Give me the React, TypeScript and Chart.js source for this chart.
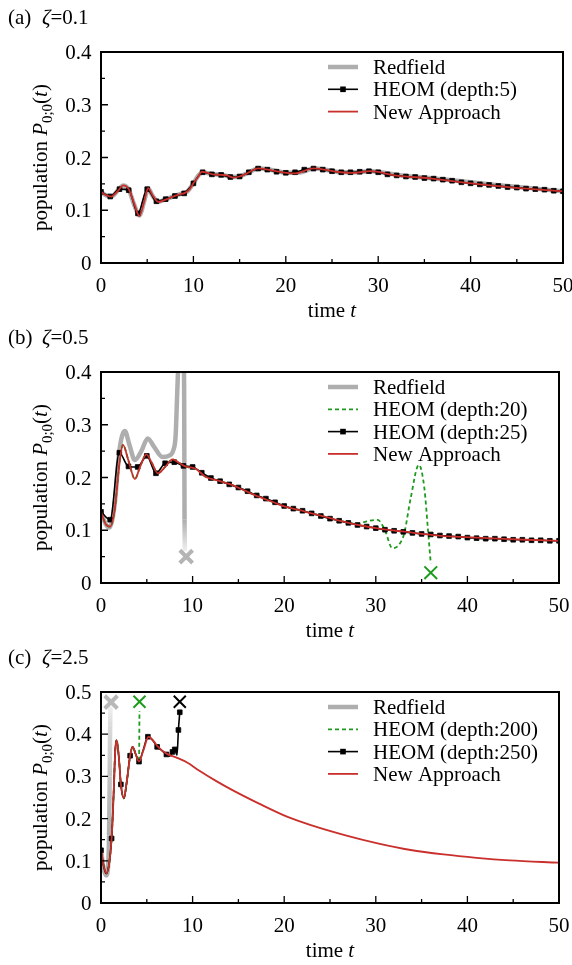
import React, { useEffect, useRef } from "react";
import { Chart, registerables } from "chart.js";
Chart.register(...registerables);

const FONT = '"Liberation Serif", Tinos, "Times New Roman", "DejaVu Serif", serif';
const FS = 21;
const GRAY = "#aeaeae";
const RED = "#c9302c";
const GREEN = "#1e9b1e";
const BLACK = "#000000";
const W = 572;
const H = 320;

// ---- axes ----
const xTicks = [0, 10, 20, 30, 40, 50];
const xTickLabels = ["0", "10", "20", "30", "40", "50"];
const xMinor = [5, 15, 25, 35, 45];
const yTicksAB = [0, 0.1, 0.2, 0.3, 0.4];
const yTickLabelsAB = ["0", "0.1", "0.2", "0.3", "0.4"];
const yMinorAB = [0.05, 0.15, 0.25, 0.35];
const yTicksC = [0, 0.1, 0.2, 0.3, 0.4, 0.5];
const yTickLabelsC = ["0", "0.1", "0.2", "0.3", "0.4", "0.5"];
const yMinorC = [0.05, 0.15, 0.25, 0.35, 0.45];

const panelLetters = ["(a)", "(b)", "(c)"];
const zetaValues = ["0.1", "0.5", "2.5"];

// HEOM sampling times (a), (b)
const heomT = [0, 1, 2, 3, 4, 5, 6, 7, 8, 9, 10, 11, 12, 13, 14, 15, 16, 17, 18, 19, 20, 21, 22, 23, 24, 25, 26, 27, 28, 29, 30, 31, 32, 33, 34, 35, 36, 37, 38, 39, 40, 41, 42, 43, 44, 45, 46, 47, 48, 49, 50];

// ---- panel (a) zeta = 0.1 ----
const aRedT = [0, 0.6, 1.2, 1.8, 2.4, 3.0, 3.6, 4.15, 4.7, 5.1, 5.6, 6.2, 7.0, 7.8, 8.6, 9.3, 10.0, 10.5, 11.0, 11.6, 12.3, 13.2, 14.2, 15.0, 15.9, 17.1, 18.6, 20.2, 21.3, 23.1, 24.6, 26.0, 27.6, 29.2, 31.0, 32.5, 35.0, 38.0, 41.0, 44.0, 47.0, 50];
const aRedV = [0.135, 0.128, 0.127, 0.137, 0.147, 0.139, 0.110, 0.090, 0.119, 0.141, 0.127, 0.116, 0.121, 0.126, 0.131, 0.135, 0.151, 0.165, 0.172, 0.170, 0.168, 0.167, 0.163, 0.164, 0.171, 0.179, 0.176, 0.171, 0.171, 0.179, 0.176, 0.172, 0.172, 0.174, 0.170, 0.166, 0.162, 0.157, 0.151, 0.146, 0.141, 0.136];
const aHeomV = [0.135, 0.126, 0.140, 0.138, 0.094, 0.140, 0.117, 0.121, 0.127, 0.132, 0.151, 0.172, 0.168, 0.167, 0.163, 0.164, 0.172, 0.179, 0.177, 0.173, 0.171, 0.172, 0.177, 0.179, 0.177, 0.174, 0.172, 0.172, 0.173, 0.174, 0.172, 0.168, 0.166, 0.164, 0.163, 0.161, 0.160, 0.158, 0.156, 0.153, 0.151, 0.149, 0.148, 0.146, 0.144, 0.143, 0.141, 0.140, 0.139, 0.137, 0.136];
const aNewT = [0, 0.5, 1.1, 1.8, 2.4, 3.0, 3.6, 4.15, 4.7, 5.1, 5.6, 6.2, 7.0, 7.8, 8.5, 9.1, 9.6, 10.0, 10.5, 10.9, 11.5, 12.1, 13.0, 13.6, 14.3, 15.0, 15.8, 17.0, 18.6, 20.1, 21.0, 23.0, 25.9, 27.5, 29.1, 32.0, 35.6, 39.6, 44.6, 50];
const aNewV = [0.135, 0.129, 0.126, 0.136, 0.147, 0.140, 0.112, 0.089, 0.118, 0.142, 0.128, 0.116, 0.120, 0.126, 0.130, 0.133, 0.140, 0.151, 0.163, 0.173, 0.171, 0.168, 0.167, 0.166, 0.162, 0.164, 0.170, 0.1795, 0.175, 0.171, 0.170, 0.1795, 0.172, 0.171, 0.174, 0.1655, 0.1605, 0.152, 0.143, 0.136];

// ---- panel (b) zeta = 0.5 ----
const bRedT = [0, 0.5, 0.9, 1.5, 2.0, 2.6, 3.1, 3.7, 4.4, 5.1, 5.8, 6.7, 7.5, 7.9, 8.15, 8.3, 8.45, 8.75, 9.0, 9.08, 9.12, 9.15];
const bRedV = [0.135, 0.112, 0.105, 0.150, 0.250, 0.288, 0.262, 0.233, 0.250, 0.274, 0.258, 0.239, 0.242, 0.252, 0.280, 0.350, 0.420, 0.500, 0.450, 0.350, 0.120, 0.060];
const bRedStop = { t: 9.3, v: 0.05 };
const bH20T = [0, 0.5, 1.0, 1.5, 2.0, 2.4, 3.0, 3.7, 4.3, 4.95, 5.6, 6.2, 7.0, 7.8, 8.5, 9.3, 10.3, 11.4, 12.8, 14.3, 15.7, 17.2, 18.7, 20.1, 21.5, 23.0, 24.8, 26.6, 28.0, 29.0, 30.2, 31.0, 31.8, 32.5, 33.1, 33.8, 34.7, 35.3, 35.7, 36.0];
const bH20V = [0.135, 0.112, 0.107, 0.140, 0.225, 0.262, 0.232, 0.197, 0.222, 0.244, 0.226, 0.208, 0.220, 0.2345, 0.228, 0.2205, 0.217, 0.2015, 0.194, 0.186, 0.175, 0.1636, 0.154, 0.1447, 0.139, 0.132, 0.124, 0.116, 0.112, 0.117, 0.1195, 0.100, 0.066, 0.072, 0.094, 0.160, 0.224, 0.180, 0.100, 0.037];
const bH20Stop = { t: 36.0, v: 0.0195 };
const bHeomV = [0.135, 0.120, 0.247, 0.221, 0.220, 0.241, 0.208, 0.227, 0.229, 0.222, 0.220, 0.209, 0.199, 0.193, 0.187, 0.181, 0.174, 0.166, 0.160, 0.153, 0.146, 0.141, 0.137, 0.132, 0.127, 0.122, 0.118, 0.114, 0.110, 0.107, 0.104, 0.101, 0.099, 0.097, 0.095, 0.093, 0.092, 0.090, 0.089, 0.088, 0.086, 0.085, 0.084, 0.084, 0.083, 0.082, 0.082, 0.081, 0.081, 0.080, 0.080];
const bNewT = [0, 0.5, 1.0, 1.5, 2.0, 2.4, 3.0, 3.7, 4.3, 4.95, 5.6, 6.2, 7.0, 7.8, 8.5, 9.3, 10.3, 11.4, 12.8, 14.3, 15.7, 17.2, 18.7, 20.1, 21.5, 23.0, 24.8, 26.6, 28.4, 30.2, 32.0, 33.8, 35.6, 37.4, 41.0, 44.6, 47.3, 50];
const bNewV = [0.135, 0.112, 0.107, 0.140, 0.225, 0.262, 0.232, 0.197, 0.222, 0.244, 0.226, 0.208, 0.220, 0.2345, 0.228, 0.2205, 0.217, 0.2015, 0.194, 0.186, 0.175, 0.1636, 0.154, 0.1447, 0.139, 0.132, 0.124, 0.116, 0.109, 0.1036, 0.0995, 0.096, 0.092, 0.089, 0.086, 0.083, 0.0815, 0.080];

// ---- panel (c) zeta = 2.5 ----
const cRedT = [0, 0.25, 0.55, 0.75, 0.88, 0.95, 1.0, 1.03];
const cRedV = [0.125, 0.085, 0.065, 0.080, 0.160, 0.300, 0.420, 0.465];
const cRedStop = { t: 1.1, v: 0.476 };
const cH200T = [0, 0.3, 0.6, 0.9, 1.16, 1.4, 1.55, 1.7, 1.95, 2.17, 2.5, 2.8, 3.18, 3.45, 3.8, 4.15, 4.2];
const cH200V = [0.125, 0.088, 0.070, 0.095, 0.153, 0.270, 0.360, 0.386, 0.345, 0.281, 0.248, 0.285, 0.349, 0.370, 0.352, 0.335, 0.455];
const cH200Stop = { t: 4.2, v: 0.477 };
const cHeomT = [0, 0.3, 0.6, 0.9, 1.16, 1.4, 1.55, 1.7, 1.95, 2.17, 2.5, 2.8, 3.18, 3.45, 3.8, 4.15, 4.6, 5.12, 5.7, 6.13, 6.6, 7.14, 7.5, 7.8, 8.05, 8.3, 8.45, 8.6];
const cHeomV = [0.125, 0.086, 0.070, 0.095, 0.153, 0.270, 0.360, 0.386, 0.345, 0.281, 0.248, 0.285, 0.349, 0.370, 0.352, 0.335, 0.362, 0.394, 0.384, 0.370, 0.362, 0.352, 0.348, 0.358, 0.364, 0.350, 0.410, 0.452];
const cHeomMarkT = [0, 1.16, 2.17, 3.18, 4.15, 5.12, 6.13, 7.14, 7.8, 8.05, 8.45, 8.6];
const cHeomStop = { t: 8.6, v: 0.477 };
const cNewT = [0, 0.3, 0.6, 0.9, 1.16, 1.4, 1.55, 1.7, 1.95, 2.17, 2.5, 2.8, 3.18, 3.45, 3.8, 4.15, 4.6, 5.2, 5.7, 6.15, 7.15, 8.3, 9.4, 10.7, 12.5, 14.3, 17.2, 20.3, 23.0, 26.6, 30.2, 33.8, 37.4, 41.0, 44.6, 50];
const cNewV = [0.1256, 0.088, 0.070, 0.095, 0.153, 0.270, 0.360, 0.386, 0.345, 0.281, 0.248, 0.285, 0.349, 0.370, 0.352, 0.335, 0.360, 0.394, 0.385, 0.372, 0.354, 0.344, 0.333, 0.314, 0.290, 0.268, 0.236, 0.2046, 0.184, 0.161, 0.1414, 0.1256, 0.115, 0.107, 0.101, 0.0955];

// ---- helpers ----
const zip = (t: number[], v: number[]) => t.map((x, i) => ({ x, y: v[i] }));

type Part = { t: string; it?: boolean; size?: number; dy?: number };
const fontOf = (p: Part) => `${p.it ? "italic " : ""}${p.size ?? FS}px ${FONT}`;
function richWidth(ctx: CanvasRenderingContext2D, parts: Part[]) {
  let w = 0;
  for (const p of parts) { ctx.font = fontOf(p); w += ctx.measureText(p.t).width; }
  return w;
}
function drawRich(ctx: CanvasRenderingContext2D, parts: Part[], x: number, y: number) {
  let cx = x;
  for (const p of parts) {
    ctx.font = fontOf(p);
    ctx.fillText(p.t, cx, y + (p.dy ?? 0));
    cx += ctx.measureText(p.t).width;
  }
}

const shade = (k: number) => {
  const c = Math.round(174 + (240 - 174) * Math.max(0, Math.min(1, k)));
  return `rgb(${c},${c},${c})`;
};
const fadeSegment = (g: CanvasRenderingContext2D, from: number, count: number) => ({
  borderColor: (sc: any) => {
    if (sc.p0DataIndex < from) return undefined;
    const n = count - 1 - from;
    const k0 = (sc.p0DataIndex - from) / n;
    const k1 = (sc.p1DataIndex - from) / n;
    const gr = g.createLinearGradient(sc.p0.x, sc.p0.y, sc.p1.x, sc.p1.y + 0.01);
    gr.addColorStop(0, shade(k0));
    gr.addColorStop(1, shade(k1));
    return gr;
  },
});

const redfieldDs = (t: number[], v: number[], seg?: any) => ({
  label: "Redfield",
  data: zip(t, v),
  borderColor: GRAY,
  borderWidth: 4.5,
  pointRadius: 0,
  cubicInterpolationMode: "monotone",
  order: 4,
  segment: seg,
});
const newDs = (t: number[], v: number[]) => ({
  label: "New Approach",
  data: zip(t, v),
  borderColor: RED,
  borderWidth: 1.8,
  pointRadius: 0,
  cubicInterpolationMode: "monotone",
  order: 1,
});
const heomDs = (label: string, t: number[], v: number[], marks?: number[]) => ({
  label,
  data: zip(t, v),
  borderColor: BLACK,
  borderWidth: 1.6,
  pointStyle: "rect",
  pointRadius: marks ? (c: any) => (marks.includes(c.raw?.x) ? 3.3 : 0) : 3.3,
  pointBackgroundColor: BLACK,
  pointBorderColor: BLACK,
  pointBorderWidth: 0.8,
  cubicInterpolationMode: "monotone",
  order: 2,
});
const greenDs = (label: string, t: number[], v: number[]) => ({
  label,
  data: zip(t, v),
  borderColor: GREEN,
  borderWidth: 1.8,
  borderDash: [4, 3],
  pointRadius: 0,
  cubicInterpolationMode: "monotone",
  order: 3,
});
const crossDs = (p: { t: number; v: number }, color: string, r: number, w: number) => ({
  label: "",
  data: [{ x: p.t, y: p.v }],
  showLine: false,
  pointStyle: "crossRot",
  pointRadius: r,
  pointBorderColor: color,
  pointBackgroundColor: color,
  borderColor: color,
  pointBorderWidth: w,
  order: -1,
  clip: false,
});

type PanelCfg = {
  letter: string;
  zeta: string;
  yMax: number;
  yTicks: number[];
  yLabels: string[];
  yMinor: number[];
  legend: number[];
  datasets: (g: CanvasRenderingContext2D) => any[];
};

function makeDecor(cfg: PanelCfg) {
  return {
    id: "decor",
    afterDraw(chart: any) {
      const ctx: CanvasRenderingContext2D = chart.ctx;
      const a = chart.chartArea;
      const xs = chart.scales.x;
      const ys = chart.scales.y;
      ctx.save();
      ctx.setLineDash([]);
      ctx.strokeStyle = "#000";
      ctx.lineWidth = 1.3;
      ctx.beginPath();
      for (const v of xTicks) { const px = xs.getPixelForValue(v); ctx.moveTo(px, a.bottom); ctx.lineTo(px, a.bottom - 7); }
      for (const v of xMinor) { const px = xs.getPixelForValue(v); ctx.moveTo(px, a.bottom); ctx.lineTo(px, a.bottom - 4); }
      for (const v of cfg.yTicks) { const py = ys.getPixelForValue(v); ctx.moveTo(a.left, py); ctx.lineTo(a.left + 7, py); }
      for (const v of cfg.yMinor) { const py = ys.getPixelForValue(v); ctx.moveTo(a.left, py); ctx.lineTo(a.left + 4, py); }
      ctx.stroke();
      ctx.lineWidth = 2;
      ctx.strokeRect(a.left, a.top, a.right - a.left, a.bottom - a.top);

      ctx.fillStyle = "#000";
      ctx.font = `${FS}px ${FONT}`;
      ctx.textBaseline = "alphabetic";
      ctx.textAlign = "center";
      xTicks.forEach((v, i) => ctx.fillText(xTickLabels[i], xs.getPixelForValue(v), a.bottom + 29));
      ctx.textAlign = "right";
      cfg.yTicks.forEach((v, i) => ctx.fillText(cfg.yLabels[i], a.left - 9.5, ys.getPixelForValue(v) + 7));
      ctx.textAlign = "left";

      const xt: Part[] = [{ t: "time " }, { t: "t", it: true }];
      const xw = richWidth(ctx, xt);
      drawRich(ctx, xt, (a.left + a.right) / 2 - xw / 2, a.bottom + 54);

      const yt: Part[] = [
        { t: "population " },
        { t: "P", it: true },
        { t: "0;0", size: 15, dy: 5 },
        { t: "(" },
        { t: "t", it: true },
        { t: ")" },
      ];
      const yw = richWidth(ctx, yt);
      ctx.save();
      ctx.translate(47, (a.top + a.bottom) / 2);
      ctx.rotate(-Math.PI / 2);
      drawRich(ctx, yt, -yw / 2, 0);
      ctx.restore();

      drawRich(ctx, [{ t: cfg.letter }], 8, 23.5);
      drawRich(ctx, [{ t: "ζ", it: true }, { t: "=" + cfg.zeta }], 42, 23.5);

      const lx0 = 328, lx1 = 358, tx = 373;
      cfg.legend.forEach((di, i) => {
        const ds = chart.data.datasets[di];
        const cy = a.top + 15 + i * 22.3;
        ctx.save();
        ctx.strokeStyle = ds.borderColor;
        ctx.lineWidth = ds.borderWidth;
        ctx.setLineDash(ds.borderDash ?? []);
        ctx.beginPath();
        ctx.moveTo(lx0, cy);
        ctx.lineTo(lx1, cy);
        ctx.stroke();
        if (ds.pointStyle === "rect") {
          ctx.fillStyle = ds.pointBackgroundColor;
          ctx.fillRect((lx0 + lx1) / 2 - 2.8, cy - 2.8, 5.6, 5.6);
        }
        ctx.restore();
        ctx.font = `${FS}px ${FONT}`;
        ctx.fillText(ds.label, tx, cy + 7);
      });
      ctx.restore();
    },
  };
}

function buildConfig(canvas: HTMLCanvasElement, cfg: PanelCfg): any {
  const g = canvas.getContext("2d") as CanvasRenderingContext2D;
  return {
    type: "line",
    data: { datasets: cfg.datasets(g) },
    options: {
      animation: false,
      responsive: false,
      events: [],
      layout: { padding: { left: 0, right: 9, top: 52, bottom: 0 } },
      plugins: { legend: { display: false }, tooltip: { enabled: false }, title: { display: false } },
      scales: {
        x: {
          type: "linear",
          min: 0,
          max: 50,
          grid: { display: false },
          border: { display: false },
          ticks: { display: false },
          afterFit: (s: any) => { s.height = 57; },
        },
        y: {
          type: "linear",
          min: 0,
          max: cfg.yMax,
          grid: { display: false },
          border: { display: false },
          ticks: { display: false },
          afterFit: (s: any) => { s.width = 101; },
        },
      },
    },
    plugins: [makeDecor(cfg)],
  };
}

const panels: PanelCfg[] = [
  {
    letter: panelLetters[0],
    zeta: zetaValues[0],
    yMax: 0.4,
    yTicks: yTicksAB,
    yLabels: yTickLabelsAB,
    yMinor: yMinorAB,
    legend: [0, 1, 2],
    datasets: () => [
      redfieldDs(aRedT, aRedV),
      heomDs("HEOM (depth:5)", heomT, aHeomV),
      newDs(aNewT, aNewV),
    ],
  },
  {
    letter: panelLetters[1],
    zeta: zetaValues[1],
    yMax: 0.4,
    yTicks: yTicksAB,
    yLabels: yTickLabelsAB,
    yMinor: yMinorAB,
    legend: [0, 1, 2, 3],
    datasets: (g) => [
      redfieldDs(bRedT, bRedV, fadeSegment(g, 20, bRedT.length)),
      greenDs("HEOM (depth:20)", bH20T, bH20V),
      heomDs("HEOM (depth:25)", heomT, bHeomV),
      newDs(bNewT, bNewV),
      crossDs(bRedStop, "#b4b4b4", 9, 4),
      crossDs(bH20Stop, GREEN, 9, 2),
    ],
  },
  {
    letter: panelLetters[2],
    zeta: zetaValues[2],
    yMax: 0.5,
    yTicks: yTicksC,
    yLabels: yTickLabelsC,
    yMinor: yMinorC,
    legend: [0, 1, 2, 3],
    datasets: (g) => [
      redfieldDs(cRedT, cRedV, fadeSegment(g, 4, cRedT.length)),
      greenDs("HEOM (depth:200)", cH200T, cH200V),
      heomDs("HEOM (depth:250)", cHeomT, cHeomV, cHeomMarkT),
      newDs(cNewT, cNewV),
      crossDs(cRedStop, "#b8b8b8", 9, 4),
      crossDs(cH200Stop, GREEN, 8.5, 2),
      crossDs(cHeomStop, BLACK, 8.5, 2),
    ],
  },
];

function Panel({ cfg }: { cfg: PanelCfg }) {
  const ref = useRef<HTMLCanvasElement | null>(null);
  useEffect(() => {
    const canvas = ref.current;
    if (!canvas) return;
    const chart = new Chart(canvas, buildConfig(canvas, cfg));
    let alive = true;
    const fonts: any = (document as any).fonts;
    if (fonts && fonts.load) {
      Promise.all([
        fonts.load(`${FS}px "Liberation Serif"`),
        fonts.load(`italic ${FS}px "Liberation Serif"`),
      ])
        .then(() => { if (alive) chart.update(); })
        .catch(() => {});
    }
    return () => { alive = false; chart.destroy(); };
  }, [cfg]);
  return <canvas ref={ref} width={W} height={H} style={{ display: "block", width: W, height: H }} />;
}

export default function App() {
  return (
    <div style={{ width: W, background: "#fff", fontFamily: '"Liberation Serif", serif' }}>
      <style>{"body{margin:0;background:#fff;}"}</style>
      <span style={{ position: "absolute", left: -9999, top: 0, fontFamily: '"Liberation Serif"' }}>
        a <i>t</i>
      </span>
      {panels.map((p, i) => (
        <Panel key={i} cfg={p} />
      ))}
    </div>
  );
}
